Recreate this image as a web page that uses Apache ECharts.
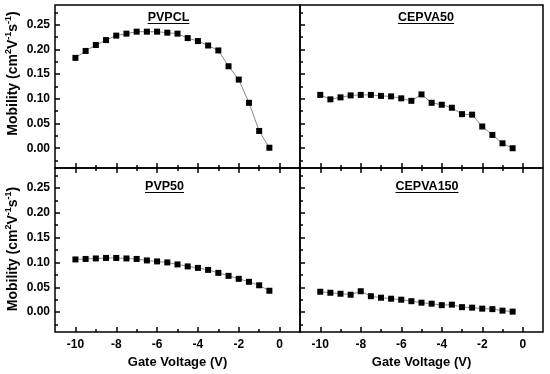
<!DOCTYPE html>
<html>
<head>
<meta charset="utf-8">
<script src="https://cdn.jsdelivr.net/npm/echarts@6/dist/echarts.min.js"></script>
<style>html,body{margin:0;padding:0;background:#fff}#c{width:550px;height:374px}</style>
</head>
<body>
<div id="c"></div>
<script>
// ---- data ----
const gateVoltage = [-10, -9.5, -9, -8.5, -8, -7.5, -7, -6.5, -6, -5.5, -5, -4.5, -4, -3.5, -3, -2.5, -2, -1.5, -1, -0.5];
const pvpcl    = [0.183, 0.197, 0.209, 0.219, 0.228, 0.232, 0.236, 0.236, 0.236, 0.234, 0.232, 0.223, 0.217, 0.208, 0.198, 0.166, 0.139, 0.092, 0.035, 0.001];
const cepva50  = [0.108, 0.099, 0.103, 0.107, 0.108, 0.108, 0.106, 0.105, 0.101, 0.096, 0.109, 0.092, 0.088, 0.082, 0.069, 0.068, 0.044, 0.027, 0.010, 0.000];
const pvp50    = [0.106, 0.107, 0.108, 0.109, 0.109, 0.108, 0.107, 0.104, 0.102, 0.100, 0.096, 0.092, 0.089, 0.085, 0.079, 0.073, 0.067, 0.061, 0.054, 0.043];
const cepva150 = [0.041, 0.039, 0.037, 0.035, 0.042, 0.032, 0.029, 0.027, 0.025, 0.022, 0.019, 0.017, 0.014, 0.015, 0.010, 0.009, 0.007, 0.006, 0.003, 0.001];
const panelTitles = ['PVPCL', 'CEPVA50', 'PVP50', 'CEPVA150'];
const xMajorTicks = [-10, -8, -6, -4, -2, 0];
const xMinorTicks = [-9, -7, -5, -3, -1];
const yMajorTicks = [0, 0.05, 0.10, 0.15, 0.20, 0.25];
const yMinorTicks = [-0.025, 0.025, 0.075, 0.125, 0.175, 0.225, 0.275];
const xTitle = 'Gate Voltage (V)';

const seriesValues = [pvpcl, cepva50, pvp50, cepva150];
const FONT = 'Liberation Sans, Arial, sans-serif';

const grids = [
  {left: 55, top: 5, width: 245, height: 163},
  {left: 300, top: 5, width: 243, height: 163},
  {left: 55, top: 168, width: 245, height: 164},
  {left: 300, top: 168, width: 243, height: 164}
];

const noLine = {show: false, onZero: false};
const xAxes = [], yAxes = [], series = [];
grids.forEach((g, gi) => {
  const isBottom = gi >= 2, isLeft = gi % 2 === 0;
  const mainX = xAxes.length;
  xAxes.push({
    type: 'value', gridIndex: gi, position: 'bottom', min: -11, max: 1,
    axisLine: noLine, splitLine: {show: false},
    axisTick: {show: true, inside: true, length: 5, customValues: xMajorTicks, lineStyle: {color: '#000', width: 1.5}},
    axisLabel: {show: isBottom, customValues: xMajorTicks, margin: 7, color: '#000', fontWeight: 'bold', fontSize: 12, fontFamily: FONT,
      formatter: v => String(v)},
    name: isBottom ? xTitle : '', nameLocation: 'middle', nameGap: 24,
    nameTextStyle: {color: '#000', fontWeight: 'bold', fontSize: 13, fontFamily: FONT}
  });
  xAxes.push({
    type: 'value', gridIndex: gi, position: 'bottom', min: -11, max: 1,
    axisLine: noLine, splitLine: {show: false}, axisLabel: {show: false},
    axisTick: {show: true, inside: true, length: 3, customValues: xMinorTicks, lineStyle: {color: '#000', width: 1.5}}
  });
  if (isBottom) {
    [[xMajorTicks, 5], [xMinorTicks, 3]].forEach(([vals, len]) => {
      xAxes.push({
        type: 'value', gridIndex: gi, position: 'top', min: -11, max: 1,
        axisLine: noLine, splitLine: {show: false}, axisLabel: {show: false},
        axisTick: {show: true, inside: true, length: len, customValues: vals, lineStyle: {color: '#000', width: 1.5}}
      });
    });
  }
  const mainY = yAxes.length;
  yAxes.push({
    type: 'value', gridIndex: gi, position: 'left', min: -0.04, max: 0.29,
    axisLine: noLine, splitLine: {show: false},
    axisTick: {show: true, inside: true, length: 5, customValues: yMajorTicks, lineStyle: {color: '#000', width: 1.5}},
    axisLabel: {show: isLeft, customValues: yMajorTicks, margin: 5, color: '#000', fontWeight: 'bold', fontSize: 12, fontFamily: FONT,
      formatter: v => v.toFixed(2)}
  });
  yAxes.push({
    type: 'value', gridIndex: gi, position: 'left', min: -0.04, max: 0.29,
    axisLine: noLine, splitLine: {show: false}, axisLabel: {show: false},
    axisTick: {show: true, inside: true, length: 3, customValues: yMinorTicks, lineStyle: {color: '#000', width: 1.5}}
  });
  series.push({
    type: 'line', name: panelTitles[gi], xAxisIndex: mainX, yAxisIndex: mainY,
    data: gateVoltage.map((x, i) => [x, seriesValues[gi][i]]),
    symbol: 'rect', symbolSize: 6, showSymbol: true,
    itemStyle: {color: '#000'},
    lineStyle: {color: '#8a8a8a', width: 1},
    animation: false, z: 3
  });
});

// titles (with underline) and y-axis names
const titlePos = [[168.5, 17.5], [426, 17.5], [164.5, 186.5], [427, 186.5]];
const graphic = [];
panelTitles.forEach((t, i) => {
  graphic.push({
    type: 'text', x: titlePos[i][0], y: titlePos[i][1],
    style: {text: t, fill: '#000', font: 'bold 12.5px ' + FONT, textAlign: 'center', textVerticalAlign: 'middle'}
  });
});
const ctx = document.createElement('canvas').getContext('2d');
ctx.font = 'bold 12.5px Liberation Sans, Arial, sans-serif';
panelTitles.forEach((t, i) => {
  const w = ctx.measureText(t).width;
  graphic.push({
    type: 'line', shape: {x1: titlePos[i][0] - w / 2, y1: titlePos[i][1] + 6, x2: titlePos[i][0] + w / 2, y2: titlePos[i][1] + 6},
    style: {stroke: '#000', lineWidth: 1}
  });
});
[73.5, 249].forEach(cy => {
  graphic.push({
    type: 'text', x: 12, y: cy, rotation: Math.PI / 2,
    style: {
      text: '{a|Mobility (cm}{s|2}{a|V}{s|-1}{a|s}{s|-1}{a|)}',
      textAlign: 'center', textVerticalAlign: 'middle',
      rich: {
        a: {fontSize: 14, fontWeight: 'bold', fontFamily: FONT, fill: '#000', color: '#000', lineHeight: 16, verticalAlign: 'bottom'},
        s: {fontSize: 9, fontWeight: 'bold', fontFamily: FONT, fill: '#000', color: '#000', lineHeight: 10, verticalAlign: 'top'}
      }
    }
  });
});

const chart = echarts.init(document.getElementById('c'), null, {renderer: 'canvas'});
chart.setOption({
  animation: false,
  backgroundColor: '#fff',
  grid: grids.map(g => Object.assign({show: true, borderColor: '#000', borderWidth: 1.5, backgroundColor: 'transparent', containLabel: false}, g)),
  xAxis: xAxes,
  yAxis: yAxes,
  series: series,
  graphic: graphic
});
</script>
</body>
</html>
